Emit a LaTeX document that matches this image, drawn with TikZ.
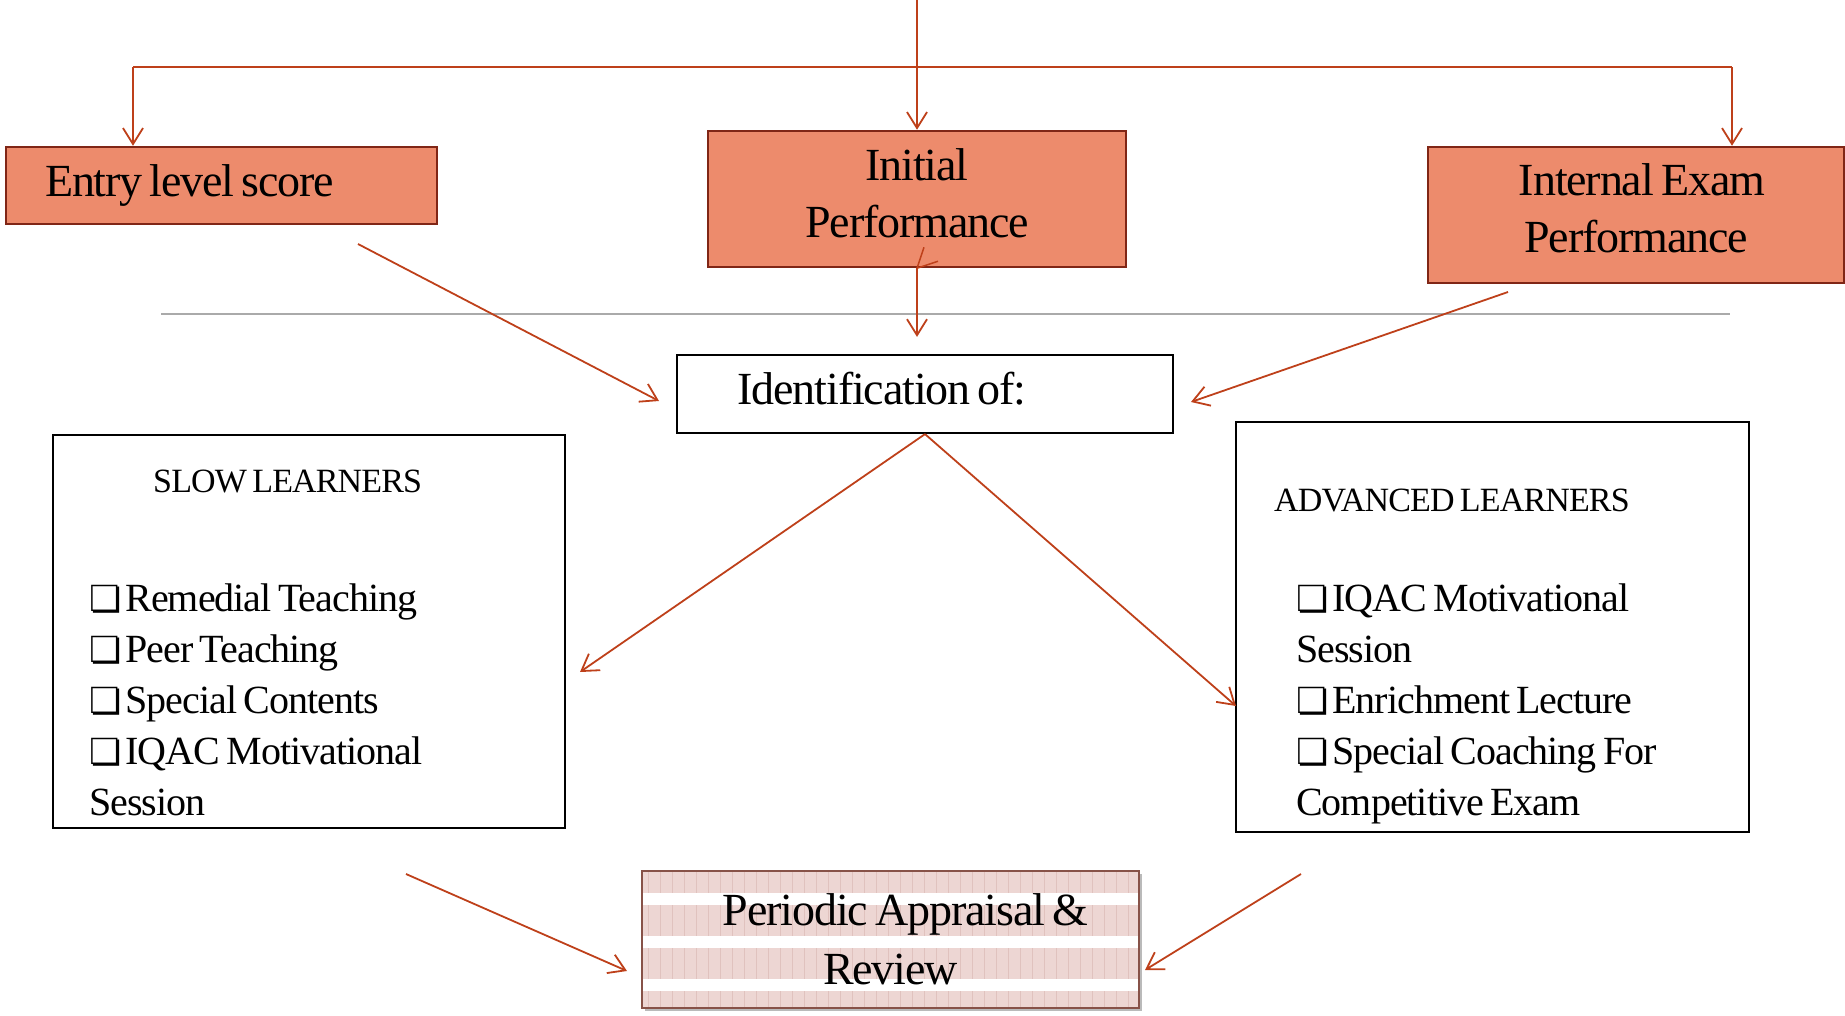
\documentclass[tikz,border=0pt]{standalone}
\usepackage{fontspec}
\setmainfont{Liberation Serif}[LetterSpace=-2.5, WordSpace=0.7]
\newfontfamily\symfont{DejaVu Sans}
\usetikzlibrary{arrows.meta,calc,shadows}

\definecolor{salmon}{RGB}{237,139,108}
\definecolor{boxred}{RGB}{128,38,22}
\definecolor{arrred}{RGB}{190,64,26}
\definecolor{revpink}{RGB}{237,214,211}
\definecolor{revline}{RGB}{224,194,190}
\definecolor{revedge}{RGB}{135,82,72}
\definecolor{sepgray}{RGB}{170,170,170}

\newcommand{\chk}{{\symfont\fontsize{36}{36}\selectfont\char"274F}\kern4pt}

\begin{document}
\begin{tikzpicture}[x=1pt, y=-1pt,
    topbox/.style={rectangle, draw=boxred, line width=2.5pt, fill=salmon, inner sep=0pt,
      align=center, font=\fontsize{46}{57}\selectfont},
    plainbox/.style={rectangle, draw=black, line width=2.2pt, inner sep=0pt},
    listtext/.style={inner sep=0pt, align=flush left, anchor=north west},
    headtext/.style={inner sep=0pt, anchor=base west, font=\fontsize{34}{40}\selectfont},
    reviewbox/.style={rectangle, draw=revedge, line width=2pt, fill=revpink, inner sep=0pt,
      minimum width=497pt, minimum height=137pt, align=center, font=\fontsize{46}{59}\selectfont,
      drop shadow={shadow xshift=3pt, shadow yshift=-3pt, fill=black!45, opacity=.6},
      path picture={
        \foreach \k in {0,...,41}
          \draw[revline, line width=1pt] ($(path picture bounding box.north west)+(6+12*\k,0)$)
            -- ($(path picture bounding box.south west)+(6+12*\k,0)$);
        \foreach \k in {22,65,108}
          \fill[white] ($(path picture bounding box.north west)+(0,\k)$)
            rectangle ($(path picture bounding box.north east)+(0,\k+12)$);
      }},
    arr/.style={draw=arrred, line width=1.8pt, -{Straight Barb[length=16pt,width=20pt]}},
    link/.style={draw=arrred, line width=1.8pt}
  ]
  \useasboundingbox (0,0) rectangle (1845,1015);

  % Score boxes
  \node[topbox, minimum width=431pt, minimum height=77pt, text width=353pt, align=flush left]
    (entry) at (221.5,185.5) {Entry level score};
  \node[topbox, minimum width=418pt, minimum height=136pt]
    (initial) at (917,199) {Initial\\Performance\rule[-12pt]{0pt}{0pt}};
  \node[topbox, minimum width=416pt, minimum height=136pt]
    (internal) at (1636,215) {\hspace*{12pt}Internal Exam\\Performance\rule[-14pt]{0pt}{0pt}};

  % Identification
  \node[plainbox, minimum width=496pt, minimum height=78pt, text depth=12pt,
    font=\fontsize{46}{57}\selectfont] (ident) at (925,394) {Identification of:\hspace*{86pt}};

  % Learner groups
  \node[plainbox, minimum width=512pt, minimum height=393pt] (slow) at (309,631.5) {};
  \node[plainbox, minimum width=513pt, minimum height=410pt] (adv) at (1492.5,627) {};
  \node[headtext] (slowhead) at (153,492) {SLOW LEARNERS};
  \node[headtext] (advhead) at (1274,511) {ADVANCED LEARNERS};
  \node[listtext, font=\fontsize{40}{51}\selectfont] (slowlist) at (89,583.5)
    {\chk Remedial Teaching\\ \chk Peer Teaching\\ \chk Special Contents\\
     \chk IQAC Motivational\\ Session};
  \node[listtext, font=\fontsize{40}{51}\selectfont] (advlist) at (1296,584)
    {\chk IQAC Motivational\\ Session\\ \chk Enrichment Lecture\\
     \chk Special Coaching For\\ Competitive Exam};

  % Review
  \node[reviewbox] (review) at (890.5,939.5) {\hspace*{30pt}Periodic Appraisal \&\\Review};

  % Free ends of connectors
  \coordinate (top) at (917,0);
  \coordinate (hl) at (133,67);
  \coordinate (hr) at (1732,67);
  \coordinate (gl) at (161,314);
  \coordinate (gr) at (1730,314);
  \coordinate (ea) at (358,244);
  \coordinate (eb) at (659,401);
  \coordinate (ia) at (1508,292);
  \coordinate (ib) at (1191,402);
  \coordinate (sa) at (580,672);
  \coordinate (aa) at (1236,706);
  \coordinate (sr) at (406,874);
  \coordinate (srb) at (627,971);
  \coordinate (ar) at (1301,874);
  \coordinate (arb) at (1145,970);

  % Top distribution
  \draw[arr] (top) -- (initial.north);
  \draw[link] (hl) -- (hr);
  \draw[arr] (hl) -- (hl |- entry.north);
  \draw[arr] (hr) -- (hr |- internal.north);
  \draw[link, line width=1.5pt] ($(initial.south)+(7,-21)$) -- (initial.south) -- ($(initial.south)+(21,-7)$);

  % Separator
  \draw[sepgray, line width=1.5pt] (gl) -- (gr);

  % Into identification
  \draw[arr] (ea) -- (eb);
  \draw[arr, shorten >=17pt] (initial.south) -- (initial.south |- ident.north);
  \draw[arr] (ia) -- (ib);

  % To learner groups
  \draw[arr] (ident.south) -- (sa);
  \draw[arr] (ident.south) -- (aa);

  % To review
  \draw[arr] (sr) -- (srb);
  \draw[arr] (ar) -- (arb);
\end{tikzpicture}
\end{document}
